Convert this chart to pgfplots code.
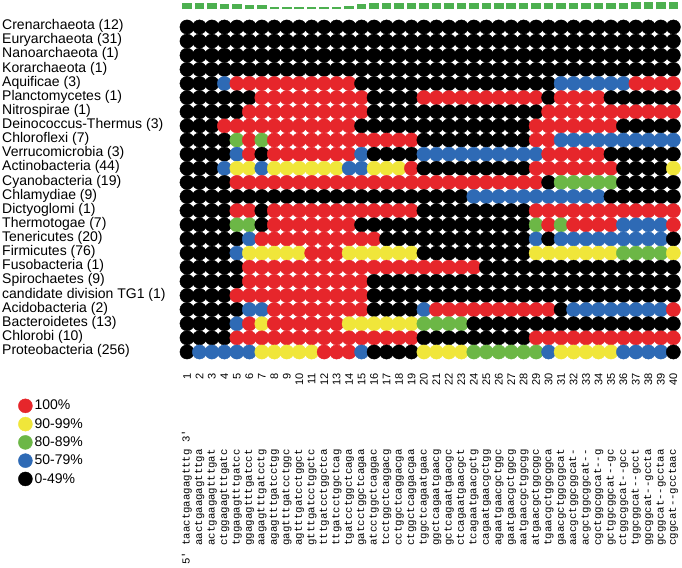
\documentclass[border=0pt]{standalone}
\usepackage{fontspec}
\setmainfont{Liberation Sans}
\setmonofont{Liberation Mono}
\usepackage{pgfplots}
\usepackage{pgfplotstable}
\pgfplotsset{compat=1.18}

\definecolor{cRed}{HTML}{E6262B}
\definecolor{cYellow}{HTML}{F0E63A}
\definecolor{cGreen}{HTML}{6CB746}
\definecolor{cBlue}{HTML}{2E6AB5}
\definecolor{cBar}{HTML}{4DB050}

% identity class per taxon (rows) and probe position (columns)
% 0 = 0-49%, 1 = 50-79%, 2 = 80-89%, 3 = 90-99%, 4 = 100%
\pgfplotstableread[header=false]{
0 0 0 0 0 0 0 0 0 0 0 0 0 0 0 0 0 0 0 0 0 0 0 0 0 0 0 0 0 0 0 0 0 0 0 0 0 0 0 0
0 0 0 0 0 0 0 0 0 0 0 0 0 0 0 0 0 0 0 0 0 0 0 0 0 0 0 0 0 0 0 0 0 0 0 0 0 0 0 0
0 0 0 0 0 0 0 0 0 0 0 0 0 0 0 0 0 0 0 0 0 0 0 0 0 0 0 0 0 0 0 0 0 0 0 0 0 0 0 0
0 0 0 0 0 0 0 0 0 0 0 0 0 0 0 0 0 0 0 0 0 0 0 0 0 0 0 0 0 0 0 0 0 0 0 0 0 0 0 0
0 0 0 1 4 4 4 4 4 4 4 4 4 4 0 0 0 0 0 0 0 0 0 0 0 0 0 0 0 0 1 1 1 1 1 1 4 4 4 4
0 0 0 0 0 0 4 4 4 4 4 4 4 4 4 0 0 0 0 4 4 4 4 4 4 4 4 4 4 0 4 4 4 4 0 0 0 0 0 0
0 0 0 0 0 4 4 4 4 4 4 4 4 4 4 0 0 0 0 0 0 0 0 0 0 0 0 0 0 4 4 4 4 4 4 4 4 4 4 4
0 0 0 4 4 4 4 4 4 4 4 4 4 4 0 0 0 0 0 0 0 0 0 0 0 0 0 0 4 4 4 4 4 4 4 0 0 0 0 0
0 0 0 0 2 4 2 4 4 4 4 4 4 4 4 4 4 4 4 0 0 0 0 0 0 0 0 0 4 4 1 1 1 1 1 1 1 1 1 1
0 0 0 0 1 4 0 4 4 4 4 4 4 4 1 0 0 0 0 1 1 1 1 1 1 1 1 1 1 4 4 4 4 4 0 0 0 0 0 0
0 0 0 1 3 3 1 3 3 3 3 3 3 1 1 3 3 3 4 0 0 0 0 0 0 0 0 0 4 4 4 4 4 4 4 0 0 0 0 3
0 0 0 0 4 4 4 4 4 4 4 4 4 4 4 4 4 4 4 4 4 4 4 4 4 4 4 4 4 0 2 2 2 2 2 0 0 0 0 0
0 0 0 0 0 0 0 0 0 0 0 0 0 0 0 0 0 0 0 0 0 0 0 1 1 1 1 1 1 1 1 1 1 1 0 0 0 0 0 0
0 0 0 0 4 4 0 4 4 4 4 4 4 4 4 4 4 4 4 0 0 0 0 0 0 0 0 0 4 4 4 4 4 4 4 4 4 4 4 4
0 0 0 0 2 2 0 4 4 4 4 4 4 4 0 0 0 0 0 0 0 0 0 0 0 0 0 0 2 4 2 4 4 4 4 1 1 1 1 4
0 0 0 0 0 1 4 4 4 4 4 4 4 4 4 4 0 0 0 0 0 0 0 0 0 0 0 0 1 0 1 1 1 1 1 1 1 1 1 0
0 0 0 0 1 3 3 3 3 3 4 4 4 3 3 3 3 3 3 0 0 0 0 0 0 0 0 0 3 3 3 3 3 3 3 2 2 2 2 3
0 0 0 0 0 4 4 4 4 4 4 4 4 4 4 4 4 4 4 4 4 4 4 4 0 0 0 0 0 0 0 0 0 0 0 0 0 0 0 0
0 0 0 0 0 4 4 4 4 4 4 4 4 4 4 0 0 0 0 0 0 0 0 0 0 0 0 0 0 0 0 0 0 0 0 0 0 0 0 0
0 0 0 0 4 4 4 4 4 4 4 4 4 4 4 0 0 0 0 0 0 0 0 0 0 0 0 0 0 0 0 0 0 0 0 0 0 0 0 0
0 0 0 0 0 1 1 4 4 4 4 4 4 4 4 0 0 0 0 1 4 4 4 4 4 4 4 4 4 4 0 1 1 1 1 1 1 1 1 4
0 0 0 0 1 4 3 4 4 4 4 4 4 3 3 3 3 3 3 2 2 2 2 0 0 0 0 0 0 0 0 0 0 0 0 0 0 0 0 0
0 0 0 0 4 4 4 4 4 4 4 4 4 4 4 4 4 4 4 0 0 0 0 0 0 0 0 0 4 4 4 4 4 4 4 4 4 4 4 4
0 1 1 1 1 1 3 3 3 3 3 4 4 4 1 0 0 0 0 3 3 3 3 2 2 2 2 2 2 1 3 3 3 3 3 1 1 1 1 0
}\cells

% conservation bars above the columns (height in px)
\pgfplotstableread{
k h
1 6
2 6
3 6
4 5
5 5
6 4
7 4
8 2.5
9 2.5
10 2.5
11 2.5
12 2.5
13 2.5
14 3.5
15 5
16 6
17 6
18 6
19 6
20 6
21 6
22 6
23 6
24 6
25 6
26 6
27 6
28 6
29 6
30 6
31 6
32 6
33 6
34 6
35 6
36 6
37 7
38 7
39 7
40 7
}\bars

\begin{document}
\begin{tikzpicture}[x=1pt,y=1pt]

\begin{axis}[
  at={(0,0)}, anchor=south west,
  scale only axis, width=682pt, height=567pt,
  xmin=0, xmax=682, ymin=0, ymax=567, y dir=reverse,
  hide axis, clip=false,
  legend style={at={(axis cs:15,396)}, anchor=north west, draw=none, fill=none,
    font=\fontsize{14}{14}\selectfont, row sep=3pt,
    /tikz/every even column/.append style={column sep=6pt}},
  legend cell align=left,
  legend image code/.code={\fill[#1] (7pt,0pt) circle (7pt);},
]
\pgfplotsinvokeforeach{0,...,39}{
  \addplot[forget plot, scatter, only marks, mark=*, mark size=7.1pt,
    scatter src=explicit symbolic,
    scatter/classes={0={black}, 1={cBlue}, 2={cGreen}, 3={cYellow}, 4={cRed}}]
    table[x expr={187+12.47*#1}, y expr={27+14.13*\coordindex}, meta index=#1] {\cells};
}
% bars on a baseline at 9.5 px, drawn upwards as thick error bars
\addplot[forget plot, draw=none, mark=none,
  error bars/.cd, y dir=minus, y explicit, error mark=none,
  error bar style={line width=9.5pt, cBar}]
  table[x expr={187+12.47*(\thisrow{k}-1)}, y expr=9.5, y error=h] {\bars};
\addlegendimage{cRed}\addlegendentry{100\%}
\addlegendimage{cYellow}\addlegendentry{90-99\%}
\addlegendimage{cGreen}\addlegendentry{80-89\%}
\addlegendimage{cBlue}\addlegendentry{50-79\%}
\addlegendimage{black}\addlegendentry{0-49\%}
\end{axis}

\foreach \lab [count=\i from 0] in {Crenarchaeota (12), Euryarchaeota (31),
  Nanoarchaeota (1), Korarchaeota (1), Aquificae (3), Planctomycetes (1),
  Nitrospirae (1), Deinococcus-Thermus (3), Chloroflexi (7), Verrucomicrobia (3),
  Actinobacteria (44), Cyanobacteria (19), Chlamydiae (9), Dictyoglomi (1),
  Thermotogae (7), Tenericutes (20), Firmicutes (76), Fusobacteria (1),
  Spirochaetes (9), candidate division TG1 (1), Acidobacteria (2),
  Bacteroidetes (13), Chlorobi (10), Proteobacteria (256)}
  \node[anchor=mid west, inner sep=0pt, font=\fontsize{14}{14}\selectfont]
    at (2, {567-27-14.13*\i}) {\lab};

\foreach \k in {1,...,40}
  \node[rotate=90, anchor=east, inner sep=0pt, font=\fontsize{11}{11}\selectfont]
    at ({187+12.47*(\k-1)}, 567-373) {\k};

\node[rotate=90, anchor=mid west, inner sep=0pt, font=\ttfamily\fontsize{10.7}{10.7}\selectfont]
  at (187, 2) {5' taactgaagagtttg 3'};
\foreach \s [count=\k from 2] in {aactgaagagtttga, actgaagagtttgat,
  ctggagagtttgatc, tggagagtttgatcc, ggagagtttgatcct, aagagtttgatcctg,
  agagtttgatcctgg, gagtttgatcctggc, agtttgatcctggct, gtttgatcctggctc,
  tttgatcctggctca, ttgatcctggctcag, tgatcctggctcaga, gatcctggctcagaa,
  atcctggctcaggac, tcctggctcaggacg, cctggctcaggacga, ctggctcaggacgaa,
  tggctcagaatgaac, ggctcagaatgaacg, gctcagaatgaacgc, ctcagaatgaacgct,
  tcagaatgaacgctg, cagaatgaacgctgg, agaatgaacgctggc, gaatgaacgctggcg,
  aatgaacgctggcgg, atgaacgctggcggc, tgaacgctggcggca, gaacgctggcggcat,
  aacgctggcggcat-, acgctggcggcat--, cgctggcggcat--g, gctggcggcat--gc,
  ctggcggcat--gcc, tggcggcat--gcct, ggcggcat--gccta, gcggcat--gcctaa,
  cggcat--gcctaac}
  \node[rotate=90, anchor=mid west, inner sep=0pt, font=\ttfamily\fontsize{10.7}{10.7}\selectfont]
    at ({187+12.47*(\k-1)}, 21.3) {\s};

\pgfresetboundingbox
\useasboundingbox (0,0) rectangle (682,567);
\end{tikzpicture}
\end{document}
